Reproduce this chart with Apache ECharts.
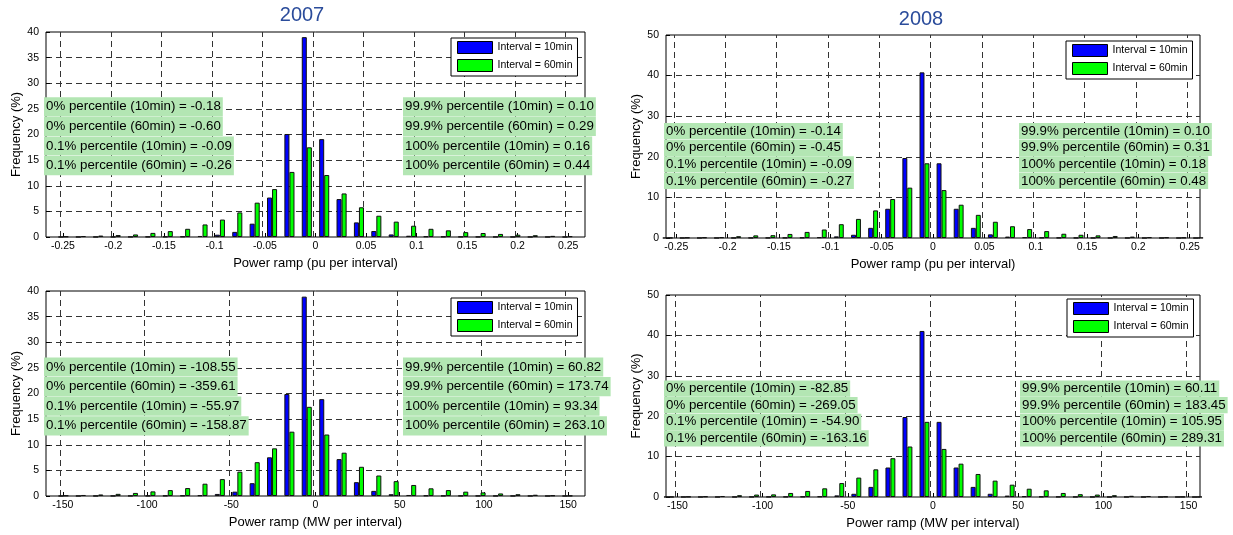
<!DOCTYPE html>
<html>
<head>
<meta charset="utf-8">
<script src="https://cdn.jsdelivr.net/npm/echarts@6.0.0/dist/echarts.min.js"></script>
<style>
html,body{margin:0;padding:0;background:#fff;}
#chart{width:1233px;height:535px;}
</style>
</head>
<body>
<div id="chart"></div>
<script>
// ---------------- data ----------------
const seriesNames = ['Interval = 10min', 'Interval = 60min'];
const titles = ['2007', '2008'];
const xNames = ['Power ramp (pu per interval)', 'Power ramp (MW per interval)'];
const yName = 'Frequency (%)';

const xTicksPu = [-0.25, -0.2, -0.15, -0.1, -0.05, 0, 0.05, 0.1, 0.15, 0.2, 0.25];
const xTicksMw = [-150, -100, -50, 0, 50, 100, 150];

// bin centres (histogram categories)
const binsPu2007 = [-0.2494,-0.2322,-0.215,-0.1978,-0.1806,-0.1634,-0.1462,-0.129,-0.1118,-0.0946,-0.0774,-0.0602,-0.043,-0.0258,-0.0086,
                    0.0086,0.0258,0.043,0.0602,0.0774,0.0946,0.1118,0.129,0.1462,0.1634,0.1806,0.1978,0.215,0.2322,0.2494];
const binsMw2007 = [-149.6,-139.3,-129,-118.7,-108.4,-98,-87.7,-77.4,-67.1,-56.8,-46.4,-36.1,-25.8,-15.5,-5.2,
                    5.2,15.5,25.8,36.1,46.4,56.8,67.1,77.4,87.7,98,108.4,118.7,129,139.3,149.6];
const binsPu2008 = [-0.2583,-0.2417,-0.225,-0.2083,-0.1917,-0.175,-0.1583,-0.1417,-0.125,-0.1083,-0.0917,-0.075,-0.0583,-0.0417,-0.025,-0.0083,
                    0.0083,0.025,0.0417,0.0583,0.075,0.0917,0.1083,0.125,0.1417,0.1583,0.175,0.1917,0.2083,0.225,0.2417,0.2583];
const binsMw2008 = [-155,-145,-135,-125,-115,-105,-95,-85,-75,-65,-55,-45,-35,-25,-15,-5,
                    5,15,25,35,45,55,65,75,85,95,105,115,125,135,145,155];

// frequencies (%)
const pu2007_10 = [0.01,0.02,0.02,0.03,0.04,0.05,0.07,0.1,0.2,0.45,1.0,2.6,7.7,20.1,39.0,
                   19.1,7.4,2.85,1.17,0.5,0.25,0.12,0.07,0.05,0.04,0.03,0.02,0.02,0.01,0.01];
const pu2007_60 = [0.1,0.18,0.28,0.38,0.5,0.8,1.15,1.6,2.45,3.4,4.8,6.7,9.35,12.7,17.5,
                   12.1,8.5,5.8,4.15,3.0,2.2,1.6,1.3,0.95,0.78,0.6,0.45,0.35,0.22,0.15];
const mw2007_10 = [0.01,0.02,0.02,0.03,0.04,0.05,0.07,0.1,0.15,0.4,0.85,2.5,7.55,19.9,38.9,
                   18.9,7.2,2.7,1.0,0.35,0.2,0.1,0.06,0.05,0.04,0.03,0.02,0.02,0.01,0.01];
const mw2007_60 = [0.1,0.2,0.3,0.42,0.6,0.9,1.15,1.55,2.4,3.3,4.75,6.6,9.3,12.55,17.4,
                   12.0,8.45,5.7,4.0,2.9,2.15,1.5,1.15,0.85,0.7,0.5,0.35,0.25,0.12,0.06];
const pu2008_10 = [0.01,0.01,0.02,0.02,0.03,0.04,0.05,0.07,0.1,0.2,0.4,0.8,2.5,7.2,19.7,40.8,
                   18.4,7.2,2.5,0.9,0.35,0.2,0.1,0.06,0.04,0.03,0.02,0.02,0.01,0.01,0.01,0];
const pu2008_60 = [0.05,0.1,0.15,0.2,0.45,0.65,0.7,1.0,1.5,2.1,3.4,4.7,6.8,9.6,12.4,18.4,
                   11.8,8.2,5.7,4.0,2.9,2.2,1.7,1.05,0.8,0.65,0.5,0.35,0.2,0.15,0.1,0.05];
const mw2008_10 = [0.01,0.01,0.02,0.02,0.03,0.04,0.05,0.07,0.1,0.15,0.4,0.8,2.5,7.3,19.8,41.1,
                   18.6,7.3,2.5,0.8,0.35,0.2,0.1,0.06,0.04,0.03,0.02,0.02,0.01,0.01,0.01,0];
const mw2008_60 = [0.03,0.08,0.15,0.25,0.45,0.6,0.65,1.0,1.5,2.15,3.45,4.8,6.85,9.6,12.5,18.6,
                   11.9,8.25,5.7,4.05,3.05,2.05,1.65,1.0,0.7,0.6,0.45,0.3,0.25,0.1,0.05,0.03];

// percentile annotation texts
const notes2007puL = ['0% percentile (10min) = -0.18','0% percentile (60min) = -0.60','0.1% percentile (10min) = -0.09','0.1% percentile (60min) = -0.26'];
const notes2007puR = ['99.9% percentile (10min) = 0.10','99.9% percentile (60min) = 0.29','100% percentile (10min) = 0.16','100% percentile (60min) = 0.44'];
const notes2008puL = ['0% percentile (10min) = -0.14','0% percentile (60min) = -0.45','0.1% percentile (10min) = -0.09','0.1% percentile (60min) = -0.27'];
const notes2008puR = ['99.9% percentile (10min) = 0.10','99.9% percentile (60min) = 0.31','100% percentile (10min) = 0.18','100% percentile (60min) = 0.48'];
const notes2007mwL = ['0% percentile (10min) = -108.55','0% percentile (60min) = -359.61','0.1% percentile (10min) = -55.97','0.1% percentile (60min) = -158.87'];
const notes2007mwR = ['99.9% percentile (10min) = 60.82','99.9% percentile (60min) = 173.74','100% percentile (10min) = 93.34','100% percentile (60min) = 263.10'];
const notes2008mwL = ['0% percentile (10min) = -82.85','0% percentile (60min) = -269.05','0.1% percentile (10min) = -54.90','0.1% percentile (60min) = -163.16'];
const notes2008mwR = ['99.9% percentile (10min) = 60.11','99.9% percentile (60min) = 183.45','100% percentile (10min) = 105.95','100% percentile (60min) = 289.31'];

// ---------------- layout / style ----------------
const FONT = '"Liberation Sans", Arial, Helvetica, sans-serif';
const BLUE = '#0000ff', GREEN = '#00ff00';
const NOTE_BG = '#b3e6b3';
const GRID_COLOR = '#333';

const panels = [
  { grid:{left:46,right:648,top:32,bottom:298}, lim:0.2667, ticks:xTicksPu, bins:binsPu2007, a:pu2007_10, b:pu2007_60,
    xName:xNames[0], yMax:40, yInt:5, legend:{left:451,top:38},
    notes:{L:notes2007puL,R:notes2007puR,lx:44,rx:403,y0:106.8,dy:19.6,pv:3.1} },
  { grid:{left:666,right:33,top:35,bottom:297}, lim:0.26, ticks:xTicksPu, bins:binsPu2008, a:pu2008_10, b:pu2008_60,
    xName:xNames[0], yMax:50, yInt:10, legend:{left:1066,top:41},
    notes:{L:notes2008puL,R:notes2008puR,lx:664,rx:1019,y0:131.2,dy:16.6,pv:1.6} },
  { grid:{left:46,right:648,top:291,bottom:39}, lim:160, ticks:xTicksMw, bins:binsMw2007, a:mw2007_10, b:mw2007_60,
    xName:xNames[1], yMax:40, yInt:5, legend:{left:451,top:298},
    notes:{L:notes2007mwL,R:notes2007mwR,lx:44,rx:403,y0:367,dy:19.6,pv:3.1} },
  { grid:{left:666,right:33,top:295,bottom:38}, lim:156.7, ticks:xTicksMw, bins:binsMw2008, a:mw2008_10, b:mw2008_60,
    xName:xNames[1], yMax:50, yInt:10, legend:{left:1067,top:299},
    notes:{L:notes2008mwL,R:notes2008mwR,lx:664,rx:1020,y0:388.6,dy:16.6,pv:1.6} }
];

const option = {
  animation:false,
  backgroundColor:'#fff',
  grid: panels.map(p => Object.assign({ show:true, borderColor:'#000', borderWidth:1 }, p.grid)),
  xAxis: panels.map((p,i) => ({
    type:'value', gridIndex:i, min:-p.lim, max:p.lim, position:'bottom',
    name:p.xName, nameLocation:'middle', nameGap:19.5,
    nameTextStyle:{ fontSize:13, color:'#000', fontFamily:FONT },
    axisLine:{ show:false, onZero:false },
    axisTick:{ show:true, inside:true, length:4, customValues:p.ticks.slice(), lineStyle:{ color:'#000' } },
    axisLabel:{ customValues:p.ticks.slice(), fontSize:10.5, color:'#000', margin:4, fontFamily:FONT,
                formatter: v => String(v) },
    splitLine:{ show:false }
  })),
  yAxis: panels.map((p,i) => ({
    type:'value', gridIndex:i, min:0, max:p.yMax, interval:p.yInt, position:'left',
    name:yName, nameLocation:'middle', nameGap:23,
    nameTextStyle:{ fontSize:13, color:'#000', fontFamily:FONT },
    axisLine:{ show:false, onZero:false },
    axisTick:{ show:true, inside:true, length:4, lineStyle:{ color:'#000' } },
    axisLabel:{ fontSize:10.5, color:'#000', margin:7, fontFamily:FONT },
    splitLine:{ show:true, showMinLine:false, showMaxLine:false, lineStyle:{ color:GRID_COLOR, width:1, type:[6,4] } }
  })),
  legend: panels.map(p => ({
    left:p.legend.left, top:p.legend.top, orient:'vertical', z:20,
    data:seriesNames, icon:'rect', itemWidth:35, itemHeight:12, itemGap:5,
    padding:[3,5,4,6], backgroundColor:'#fff', borderColor:'#000', borderWidth:1, borderRadius:0,
    itemStyle:{ borderColor:'#000', borderWidth:1 },
    textStyle:{ fontSize:10.5, color:'#000', fontFamily:FONT },
    selectedMode:false
  })),
  series: [],
  graphic: { elements: [] }
};

panels.forEach((p,i) => {
  [p.a, p.b].forEach((vals, j) => {
    const s = {
      type:'bar', name:seriesNames[j], xAxisIndex:i, yAxisIndex:i,
      data: p.bins.map((x,k) => [x, vals[k]]),
      barWidth:'29%', barGap:'0%',
      itemStyle:{ color: j === 0 ? BLUE : GREEN, borderColor:'#111', borderWidth:1 }
    };
    if (j === 0) {
      // vertical dashed grid lines at the tick values
      s.markLine = {
        silent:true, symbol:['none','none'], animation:false, z:1,
        label:{ show:false }, emphasis:{ disabled:true },
        lineStyle:{ color:GRID_COLOR, width:1, type:[6,4] },
        data: p.ticks.map(v => ({ xAxis:v }))
      };
    }
    option.series.push(s);
  });
  const n = p.notes;
  [[n.L, n.lx], [n.R, n.rx]].forEach(([lines, x]) => {
    lines.forEach((t, k) => {
      option.graphic.elements.push({
        type:'text', x:x, y:n.y0 + k*n.dy, z:50, silent:true,
        style:{ text:t, fill:'#000', fontSize:13.3, fontFamily:FONT,
                backgroundColor:NOTE_BG, padding:[n.pv, 2, n.pv, 2],
                verticalAlign:'middle', textVerticalAlign:'middle' }
      });
    });
  });
});

// year titles
[[titles[0], 302, 15], [titles[1], 921, 19.3]].forEach(([t, x, y]) => {
  option.graphic.elements.push({
    type:'text', x:x, y:y, z:50, silent:true,
    style:{ text:t, fill:'#2b4c9b', fontSize:20, fontFamily:FONT,
            align:'center', textAlign:'center', verticalAlign:'middle', textVerticalAlign:'middle' }
  });
});

const chart = echarts.init(document.getElementById('chart'), null, { renderer:'canvas' });
chart.setOption(option);
</script>
</body>
</html>
